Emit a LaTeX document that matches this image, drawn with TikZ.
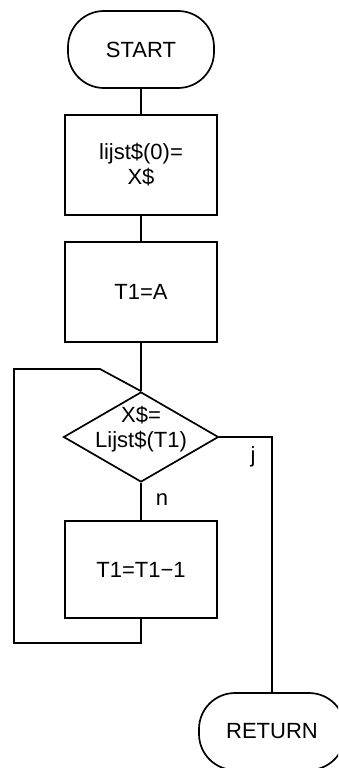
\documentclass[tikz,border=0pt]{standalone}
\usepackage{fontspec}
\setmainfont{Liberation Sans}
\usetikzlibrary{shapes.geometric}
\tikzset{
  base/.style={draw, line width=1.7pt, font=\fontsize{22}{25}\selectfont, align=center, inner sep=0pt},
  term/.style={base, rectangle, rounded corners=36pt, minimum width=146pt, minimum height=77pt},
  proc/.style={base, rectangle, minimum width=152pt},
  dec/.style={base, diamond, minimum width=155pt, minimum height=90pt},
  lbl/.style={font=\fontsize{22}{25}\selectfont, inner sep=0pt},
  conn/.style={line width=1.7pt}
}
\begin{document}
\begin{tikzpicture}[x=1pt,y=-1pt]
\useasboundingbox (0,0) rectangle (338,768);
\clip (0,0) rectangle (338,768);
\node[term] (start) at (141,49.5) {START};
\node[proc, minimum height=100pt] (b1) at (141,165) {lijst\$(0)=\\X\$};
\node[proc, minimum height=100pt] (b2) at (141,292) {T1=A};
\node[dec] (dia) at (141,437) {};
\node[lbl, align=center] (dtext) at (141,429) {X\$=\\Lijst\$(T1)};
\node[proc, minimum height=97pt] (b3) at (141,569.5) {T1=T1−1};
\node[term] (ret) at (272,731.5) {RETURN};
\node[lbl] (n) at (162,500) {n};
\node[lbl] (j) at (253,457) {j};
\coordinate (lb) at (14,643);
\coordinate (lt) at (14,369);
\coordinate (tk) at (100,369);
\draw[conn] (start.south) -- (b1.north);
\draw[conn] (b1.south) -- (b2.north);
\draw[conn] (b2.south) -- (dia.north);
\draw[conn] (dia.south) -- (b3.north);
\draw[conn] (b3.south) |- (lb) -- (lt) -- (tk) -- (dia.north);
\draw[conn] (dia.east) -| (ret.north);
\end{tikzpicture}
\end{document}
